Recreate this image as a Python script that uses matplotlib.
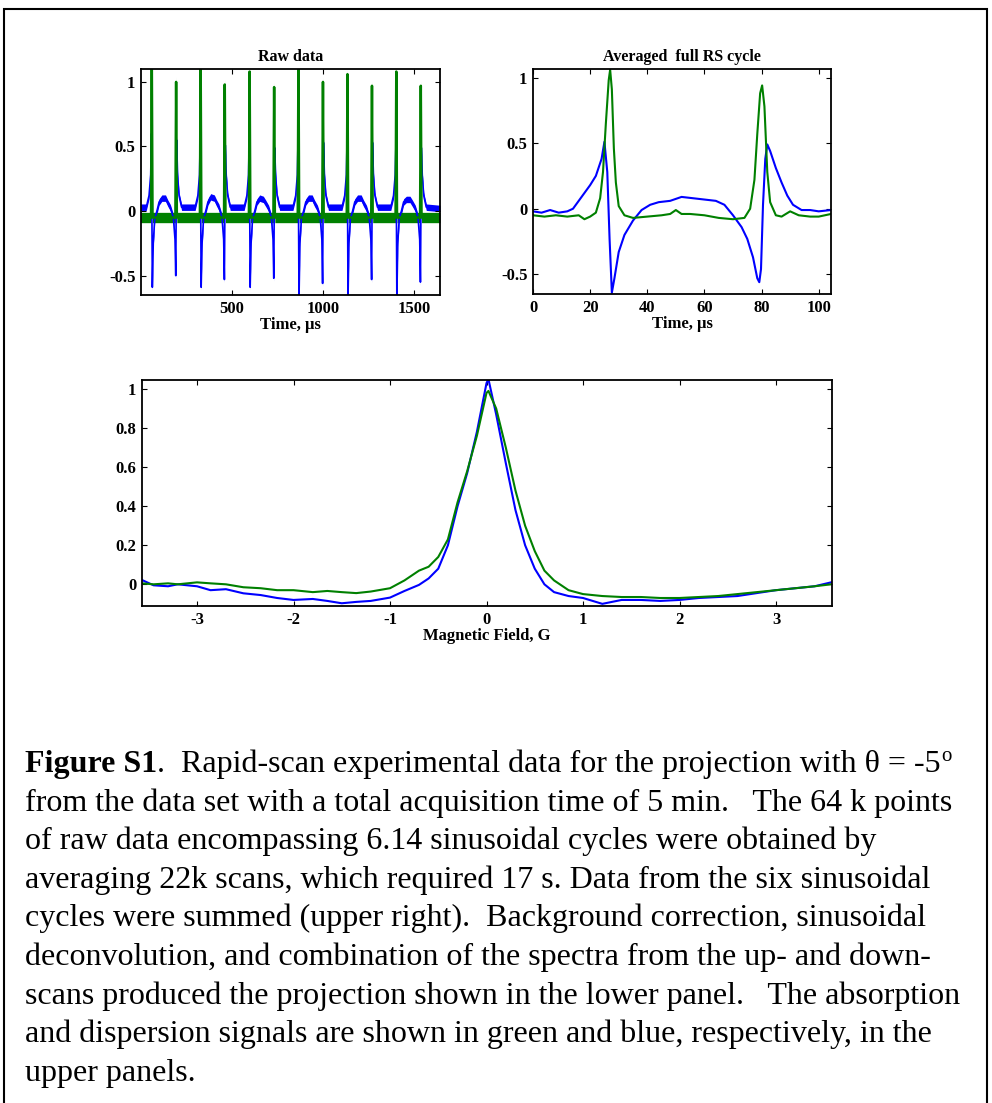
import matplotlib
matplotlib.use("Agg")
import matplotlib.pyplot as plt
import numpy as np
from matplotlib.patches import Rectangle

plt.rcParams['font.family'] = ['Liberation Serif', 'DejaVu Serif']

# ---- raw data panel (time in us) ----
raw_green_t = [0, 60, 64, 68, 193, 197, 201, 327, 331, 335, 459, 463, 467,
               595, 599, 603, 729, 733, 737, 862, 866, 870, 996, 1000, 1004,
               1130, 1134, 1138, 1264, 1268, 1272, 1397, 1401, 1405,
               1531, 1535, 1539, 1640]
raw_green_v = [-0.05, -0.05, 1.2, -0.05, -0.05, 1.0, -0.05, -0.05, 1.2, -0.05,
               -0.05, 0.98, -0.05, -0.05, 1.08, -0.05, -0.05, 0.96, -0.05,
               -0.05, 1.2, -0.05, -0.05, 1.0, -0.05, -0.05, 1.06, -0.05,
               -0.05, 0.97, -0.05, -0.05, 1.08, -0.05, -0.05, 0.97, -0.05, -0.05]

raw_blue_t = [0, 34, 49, 58, 62, 65, 67, 72, 80, 92, 104, 119, 139, 152, 164,
              167, 182, 191, 195, 198, 200, 205, 213, 227,
              301, 316, 325, 329, 332, 334, 339, 347, 359, 371, 386, 406, 419, 431,
              433, 448, 457, 461, 464, 466, 471, 479, 493,
              569, 584, 593, 597, 600, 602, 607, 615, 627, 639, 654, 674, 687, 699,
              703, 718, 727, 731, 734, 736, 741, 749, 763,
              836, 851, 860, 864, 867, 869, 874, 882, 894, 906, 921, 941, 954, 966,
              970, 985, 994, 998, 1001, 1003, 1008, 1016, 1030,
              1104, 1119, 1128, 1132, 1135, 1137, 1142, 1150, 1162, 1174, 1189, 1209, 1222, 1234,
              1238, 1253, 1262, 1266, 1269, 1271, 1276, 1284, 1298,
              1371, 1386, 1395, 1399, 1402, 1404, 1409, 1417, 1429, 1441, 1456, 1476, 1489, 1501,
              1505, 1520, 1529, 1533, 1536, 1538, 1543, 1551, 1565,
              1640]
raw_blue_v = [0.03, 0.03, 0.12, 0.28, 0.60, -0.10, -0.59, -0.25, -0.06, 0.00, 0.07, 0.10, 0.10, 0.06, 0.03,
              0.02, -0.05, -0.22, -0.50, 0.10, 0.55, 0.28, 0.12, 0.03,
              0.03, 0.12, 0.28, 0.59, -0.10, -0.59, -0.25, -0.06, 0.00, 0.07, 0.11, 0.10, 0.06, 0.03,
              0.02, -0.05, -0.22, -0.53, 0.10, 0.51, 0.28, 0.12, 0.03,
              0.03, 0.12, 0.28, 0.58, -0.10, -0.59, -0.25, -0.06, 0.00, 0.07, 0.10, 0.09, 0.06, 0.03,
              0.02, -0.05, -0.22, -0.52, 0.10, 0.49, 0.28, 0.12, 0.03,
              0.03, 0.12, 0.28, 0.57, -0.10, -0.68, -0.25, -0.06, 0.00, 0.07, 0.10, 0.10, 0.06, 0.03,
              0.02, -0.05, -0.22, -0.56, 0.10, 0.53, 0.28, 0.12, 0.03,
              0.03, 0.12, 0.28, 0.56, -0.10, -0.68, -0.25, -0.06, 0.00, 0.07, 0.10, 0.10, 0.06, 0.03,
              0.02, -0.05, -0.22, -0.53, 0.10, 0.53, 0.28, 0.12, 0.03,
              0.03, 0.12, 0.28, 0.51, -0.10, -0.68, -0.25, -0.06, 0.00, 0.07, 0.09, 0.09, 0.06, 0.03,
              0.02, -0.05, -0.22, -0.55, 0.10, 0.49, 0.28, 0.12, 0.03,
              0.02]

# ---- averaged full RS cycle ----
avg_blue_t = [0, 3, 6, 9, 12, 14, 17, 20, 22, 24, 25, 26, 26.8, 27.6, 28.5, 30, 32,
              35, 38, 41, 44, 48, 52, 56, 60, 64, 67, 70, 73, 75, 77, 78.5, 79.2,
              79.8, 80.5, 81.3, 82, 83, 85, 87, 89, 91, 94, 97, 100, 104.3]
avg_blue = [-0.02, -0.03, -0.01, -0.03, -0.02, 0.0, 0.09, 0.18, 0.25, 0.38, 0.51,
            0.28, -0.23, -0.64, -0.53, -0.33, -0.20, -0.09, -0.01, 0.03, 0.05,
            0.06, 0.09, 0.08, 0.07, 0.06, 0.03, -0.05, -0.14, -0.23, -0.37, -0.53,
            -0.56, -0.46, 0.03, 0.38, 0.49, 0.44, 0.31, 0.2, 0.1, 0.03, -0.01,
            -0.01, -0.02, -0.01]
avg_green_t = [0, 4, 8, 12, 16, 18, 20, 22, 23.5, 24.5, 25.5, 26.5, 27, 27.6, 28.3,
               29, 30, 32, 35, 40, 45, 48, 50, 52, 55, 60, 65, 70, 74, 76, 77.5,
               78.5, 79.5, 80.2, 81, 82, 83, 85, 87, 90, 93, 97, 100, 104.3]
avg_green = [-0.05, -0.06, -0.05, -0.06, -0.05, -0.08, -0.06, -0.03, 0.08, 0.28,
             0.65, 0.98, 1.06, 0.91, 0.46, 0.2, 0.02, -0.05, -0.07, -0.06, -0.05,
             -0.04, -0.01, -0.04, -0.04, -0.05, -0.07, -0.08, -0.07, 0.0, 0.22,
             0.57, 0.88, 0.94, 0.78, 0.28, 0.05, -0.05, -0.06, -0.02, -0.05,
             -0.06, -0.06, -0.04]

# ---- projection vs magnetic field (G) ----
field = [-3.57, -3.45, -3.3, -3.2, -3.0, -2.86, -2.7, -2.52, -2.34, -2.17,
         -2.0, -1.8, -1.65, -1.5, -1.35, -1.2, -1.0, -0.85, -0.7, -0.6,
         -0.5, -0.4, -0.3, -0.2, -0.1, 0.0, 0.02, 0.1, 0.2, 0.3,
         0.4, 0.5, 0.6, 0.7, 0.85, 1.0, 1.2, 1.4, 1.6, 1.8,
         2.0, 2.2, 2.4, 2.6, 2.8, 3.0, 3.2, 3.4, 3.57]
proj_blue = [0.022, -0.005, -0.01, 0.0, -0.01, -0.03, -0.025, -0.046, -0.055, -0.07,
             -0.08, -0.075, -0.085, -0.097, -0.09, -0.085, -0.068, -0.034, -0.003, 0.03,
             0.08, 0.2, 0.4, 0.57, 0.78, 1.03, 1.05, 0.87, 0.62, 0.38,
             0.2, 0.08, 0.0, -0.04, -0.06, -0.07, -0.1, -0.08, -0.08, -0.085,
             -0.08, -0.07, -0.065, -0.06, -0.045, -0.03, -0.02, -0.01, 0.01]
proj_green = [0.005, 0.0, 0.005, 0.0, 0.01, 0.005, 0.0, -0.015, -0.02, -0.03,
              -0.03, -0.04, -0.034, -0.04, -0.045, -0.037, -0.02, 0.02, 0.07, 0.09,
              0.14, 0.23, 0.42, 0.58, 0.76, 0.98, 0.99, 0.9, 0.7, 0.48,
              0.3, 0.17, 0.07, 0.02, -0.03, -0.05, -0.06, -0.065, -0.065, -0.07,
              -0.07, -0.065, -0.06, -0.05, -0.04, -0.03, -0.02, -0.01, 0.0]

# tick labels
raw_xticks = [500, 1000, 1500]
avg_xticks = [0, 20, 40, 60, 80, 100]
top_yticks = [-0.5, 0, 0.5, 1]
top_ylabels = ['-0.5', '0', '0.5', '1']
field_xticks = [-3, -2, -1, 0, 1, 2, 3]
field_xlabels = ['-3', '-2', '-1', '0', '1', '2', '3']
field_yticks = [0, 0.2, 0.4, 0.6, 0.8, 1]
field_ylabels = ['0', '0.2', '0.4', '0.6', '0.8', '1']

caption = [
    "from the data set with a total acquisition time of 5 min.   The 64 k points",
    "of raw data encompassing 6.14 sinusoidal cycles were obtained by",
    "averaging 22k scans, which required 17 s. Data from the six sinusoidal",
    "cycles were summed (upper right).  Background correction, sinusoidal",
    "deconvolution, and combination of the spectra from the up- and down-",
    "scans produced the projection shown in the lower panel.   The absorption",
    "and dispersion signals are shown in green and blue, respectively, in the",
    "upper panels.",
]

BLUE = '#0000ff'
GREEN = '#008000'
W, H = 992, 1103
fig = plt.figure(figsize=(W / 100, H / 100), dpi=100)


def px_axes(left, top, right, bottom):
    return fig.add_axes([left / W, 1 - bottom / H, (right - left) / W, (bottom - top) / H])


def style(ax, xt, xl, yt, yl):
    ax.set_xticks(xt)
    ax.set_xticklabels(xl, fontweight='bold')
    ax.set_yticks(yt)
    ax.set_yticklabels(yl, fontweight='bold')
    ax.tick_params(direction='in', top=True, right=True, length=3.5, width=0.8,
                   labelsize=12, pad=4)
    for s in ax.spines.values():
        s.set_linewidth(1.3)


# raw data
ax1 = px_axes(141, 69, 440, 295)
bv = np.array(raw_blue_v)
gv = np.array(raw_green_v)
ax1.fill_between(raw_blue_t, bv - 0.025, bv + 0.025, color=BLUE, lw=0)
ax1.plot(raw_blue_t, raw_blue_v, color=BLUE, lw=1.2)
ax1.fill_between(raw_green_t, gv - 0.04, gv + 0.04, color=GREEN, lw=0)
ax1.plot(raw_green_t, raw_green_v, color=GREEN, lw=1.8)
ax1.set_xlim(5, 1640)
ax1.set_ylim(-0.65, 1.1)
style(ax1, raw_xticks, [str(v) for v in raw_xticks], top_yticks, top_ylabels)
ax1.set_title('Raw data', fontsize=11.5, fontweight='bold', pad=6)
ax1.set_xlabel('Time, \u03bcs', fontsize=12, fontweight='bold', labelpad=0)

# averaged cycle
ax2 = px_axes(533, 69, 831, 294)
ax2.plot(avg_blue_t, avg_blue, color=BLUE, lw=1.5)
ax2.plot(avg_green_t, avg_green, color=GREEN, lw=1.5)
ax2.set_xlim(0, 104.3)
ax2.set_ylim(-0.65, 1.065)
style(ax2, avg_xticks, [str(v) for v in avg_xticks], top_yticks, top_ylabels)
ax2.set_title('Averaged  full RS cycle', fontsize=11.5, fontweight='bold', pad=6)
ax2.set_xlabel('Time, \u03bcs', fontsize=12, fontweight='bold', labelpad=0)

# projection
ax3 = px_axes(142, 380, 832, 606)
ax3.plot(field, proj_blue, color=BLUE, lw=1.5)
ax3.plot(field, proj_green, color=GREEN, lw=1.5)
ax3.set_xlim(-3.57, 3.58)
ax3.set_ylim(-0.111, 1.046)
style(ax3, field_xticks, field_xlabels, field_yticks, field_ylabels)
ax3.set_xlabel('Magnetic Field, G', fontsize=12, fontweight='bold', labelpad=0)

# frame around the whole figure
fig.add_artist(Rectangle((4 / W, -0.02), (987 - 4) / W, 1.02 - 9 / H,
                         transform=fig.transFigure, fill=False, ec='black', lw=1.5))

# caption
cap_x = 25
y0 = 772
step = 38.6
fs = 23
r = fig.canvas.get_renderer()
t1 = fig.text(cap_x / W, 1 - y0 / H, 'Figure S1', fontsize=fs, fontweight='bold', va='baseline')
bb = t1.get_window_extent(r)
t2 = fig.text(bb.x1 / W, 1 - y0 / H,
              '.  Rapid-scan experimental data for the projection with \u03b8 = -5',
              fontsize=fs, va='baseline')
bb2 = t2.get_window_extent(r)
fig.text(bb2.x1 / W + 1 / W, 1 - (y0 - 11) / H, 'o', fontsize=15, va='baseline')
for i, line in enumerate(caption):
    fig.text(cap_x / W, 1 - (y0 + step * (i + 1)) / H, line, fontsize=fs, va='baseline')

fig.savefig('out.png', dpi=100)
